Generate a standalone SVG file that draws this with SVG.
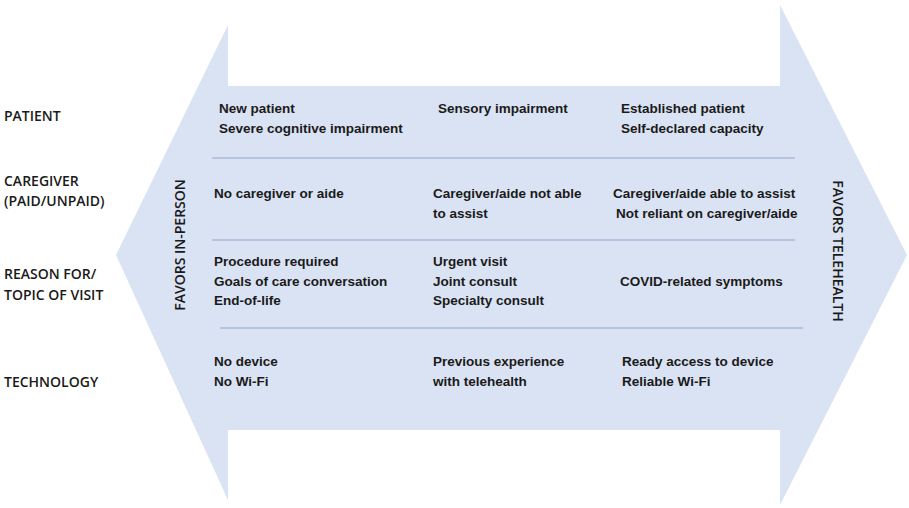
<svg xmlns="http://www.w3.org/2000/svg" width="909" height="508" viewBox="0 0 909 508">
<style>
.t{font-family:"Liberation Sans",Arial,sans-serif;font-weight:bold;font-size:13.5px;fill:#1a1a1a}
.l{font-family:"Open Sans","Liberation Sans",sans-serif;font-weight:600;font-size:14px;fill:#1a1a1a}
.v{font-family:"Open Sans","Liberation Sans",sans-serif;font-weight:600;font-size:14px;fill:#1a1a1a;text-anchor:middle}
.d{stroke:#8ea6cf;stroke-width:1.2}
</style>
<rect width="909" height="508" fill="#fff"/>
<g id="arrow"><polygon points="116,255 228,25 228,86 780,86 780,5 907,255 780,505 780,430 228,430 228,500" fill="#dae3f3"/></g>
<g id="connectors">
<line class="d" x1="212" y1="158" x2="795" y2="158"/>
<line class="d" x1="212" y1="240" x2="795" y2="240"/>
<line class="d" x1="220" y1="328" x2="803" y2="328"/>
</g>
<g id="labels">
<text class="l" x="4" y="121">PATIENT</text>
<text class="l" x="4" y="186">CAREGIVER</text>
<text class="l" x="4" y="206">(PAID/UNPAID)</text>
<text class="l" x="4" y="279">REASON FOR/</text>
<text class="l" x="4" y="300">TOPIC OF VISIT</text>
<text class="l" x="4" y="387">TECHNOLOGY</text>
</g>
<g id="sides">
<text class="v" transform="translate(185,245) rotate(-90)">FAVORS IN-PERSON</text>
<text class="v" transform="translate(833,251) rotate(90)">FAVORS TELEHEALTH</text>
</g>
<g id="cells">
<text class="t" x="219" y="113">New patient</text>
<text class="t" x="219" y="133">Severe cognitive impairment</text>
<text class="t" x="438" y="113">Sensory impairment</text>
<text class="t" x="621" y="113">Established patient</text>
<text class="t" x="621" y="133">Self-declared capacity</text>
<text class="t" x="214" y="198">No caregiver or aide</text>
<text class="t" x="433" y="198">Caregiver/aide not able</text>
<text class="t" x="433" y="218">to assist</text>
<text class="t" x="613" y="198">Caregiver/aide able to assist</text>
<text class="t" x="616" y="218">Not reliant on caregiver/aide</text>
<text class="t" x="214" y="266">Procedure required</text>
<text class="t" x="214" y="286">Goals of care conversation</text>
<text class="t" x="214" y="305">End-of-life</text>
<text class="t" x="433" y="266">Urgent visit</text>
<text class="t" x="433" y="286">Joint consult</text>
<text class="t" x="433" y="305">Specialty consult</text>
<text class="t" x="620" y="286">COVID-related symptoms</text>
<text class="t" x="214" y="366">No device</text>
<text class="t" x="214" y="386">No Wi-Fi</text>
<text class="t" x="433" y="366">Previous experience</text>
<text class="t" x="433" y="386">with telehealth</text>
<text class="t" x="622" y="366">Ready access to device</text>
<text class="t" x="622" y="386">Reliable Wi-Fi</text>
</g>
</svg>
